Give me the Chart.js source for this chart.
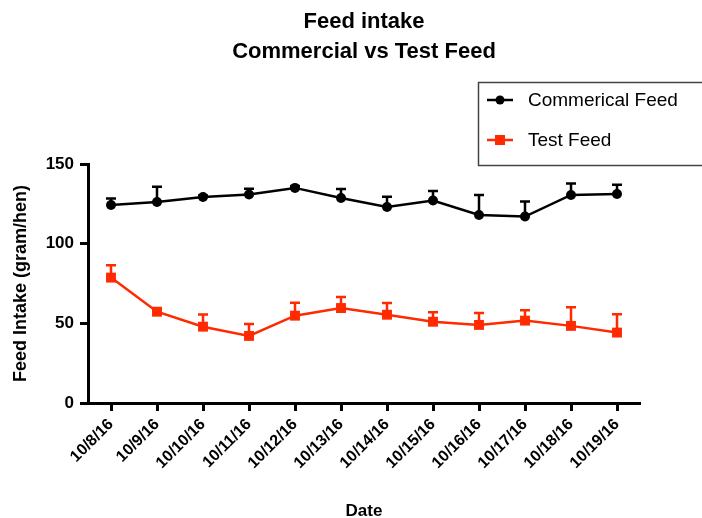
<!DOCTYPE html>
<html>
<head>
<meta charset="utf-8">
<script src="https://cdn.jsdelivr.net/npm/chart.js@4.4.0/dist/chart.umd.min.js"></script>
<style>
  html, body { margin: 0; padding: 0; background: #fff; }
  #wrap { width: 702px; height: 518px; position: relative; }
</style>
</head>
<body>
<div id="wrap"><canvas id="feedChart" width="702" height="518"></canvas></div>
<script>
var dates = ['10/8/16','10/9/16','10/10/16','10/11/16','10/12/16','10/13/16',
             '10/14/16','10/15/16','10/16/16','10/17/16','10/18/16','10/19/16'];

// mean feed intake per day (gram/hen)
var commercialMean = [124.3, 126.2, 129.3, 130.9, 135.0, 128.7, 123.0, 127.1, 118.0, 117.0, 130.6, 131.2];
var commercialErr  = [4.0, 9.6, 1.0, 3.6, 1.0, 5.6, 6.5, 6.0, 12.6, 9.4, 7.1, 5.7];

var testMean = [78.7, 57.3, 47.9, 42.1, 54.8, 59.6, 55.4, 51.0, 49.0, 51.7, 48.4, 44.2];
var testErr  = [7.8, 1.0, 7.7, 7.5, 8.1, 6.9, 7.4, 5.9, 7.5, 6.5, 11.7, 11.5];

var yTicks = [0, 50, 100, 150];

var BLACK = '#000000';
var RED = '#ff2a00';
var FONT = '"Liberation Sans", Arial, Helvetica, sans-serif';

// upper error bars, drawn under the markers
var errorBars = {
	id : 'errorBars',
	beforeDatasetsDraw : function(chart) {
		var ctx = chart.ctx;
		var x = chart.scales.x, y = chart.scales.y;
		chart.data.datasets.forEach(function(ds) {
			if (!ds.errors) return;
			ctx.save();
			ctx.strokeStyle = ds.borderColor;
			ctx.lineWidth = 2.5;
			for (var i = 0; i < ds.data.length; i++) {
				var px = x.getPixelForValue(i);
				var y0 = y.getPixelForValue(ds.data[i]);
				var y1 = y.getPixelForValue(ds.data[i] + ds.errors[i]);
				ctx.beginPath();
				ctx.moveTo(px, y0);
				ctx.lineTo(px, y1);
				ctx.moveTo(px - 5, y1);
				ctx.lineTo(px + 5, y1);
				ctx.stroke();
			}
			ctx.restore();
		});
	}
};

// two-line heading and boxed legend
var decorations = {
	id : 'decorations',
	afterDraw : function(chart) {
		var ctx = chart.ctx;
		var area = chart.chartArea;
		var cx = (area.left + area.right) / 2;
		ctx.save();
		ctx.fillStyle = BLACK;
		ctx.textAlign = 'center';
		ctx.textBaseline = 'middle';
		ctx.font = 'bold 22px ' + FONT;
		ctx.fillText('Feed intake', cx, 22);
		ctx.fillText('Commercial vs Test Feed', cx, 52);

		// legend box
		ctx.strokeStyle = '#444';
		ctx.lineWidth = 1.5;
		ctx.strokeRect(478.5, 82.5, 230, 83);

		var rows = [
			{ label : 'Commerical Feed', color : BLACK, style : 'circle', y : 100 },
			{ label : 'Test Feed', color : RED, style : 'rect', y : 140 }
		];
		ctx.textAlign = 'left';
		ctx.font = '19px ' + FONT;
		rows.forEach(function(r) {
			ctx.strokeStyle = r.color;
			ctx.fillStyle = r.color;
			ctx.lineWidth = 2.5;
			ctx.beginPath();
			ctx.moveTo(487, r.y);
			ctx.lineTo(513, r.y);
			ctx.stroke();
			if (r.style === 'circle') {
				ctx.beginPath();
				ctx.arc(500, r.y, 4.5, 0, Math.PI * 2);
				ctx.fill();
			} else {
				ctx.fillRect(495, r.y - 5, 10, 10);
			}
			ctx.fillStyle = BLACK;
			ctx.fillText(r.label, 528, r.y + 1);
		});
		ctx.restore();
	}
};

var ctx = document.getElementById('feedChart');

var data = {
	labels : dates,
	datasets : [
		{
			label : 'Commerical Feed',
			data : commercialMean,
			errors : commercialErr,
			borderColor : BLACK,
			backgroundColor : BLACK,
			borderWidth : 2.5,
			pointStyle : 'circle',
			pointRadius : 5,
			pointBorderWidth : 0,
			tension : 0,
			fill : false
		},
		{
			label : 'Test Feed',
			data : testMean,
			errors : testErr,
			borderColor : RED,
			backgroundColor : RED,
			borderWidth : 2.5,
			pointStyle : 'rect',
			pointRadius : 7,
			pointBorderWidth : 0,
			tension : 0,
			fill : false
		}
	]
};

var options = {
	responsive : false,
	animation : false,
	layout : {
		padding : { top : 164, right : 62, bottom : 0, left : 0 }
	},
	plugins : {
		legend : { display : false },
		title : { display : false },
		tooltip : { enabled : false }
	},
	scales : {
		x : {
			offset : true,
			afterFit : function(scale) { scale.height = 115; },
			grid : {
				display : true,
				drawOnChartArea : false,
				drawTicks : true,
				tickLength : 8,
				tickWidth : 3,
				tickColor : BLACK,
				offset : false
			},
			border : { display : true, color : BLACK, width : 3 },
			ticks : {
				color : BLACK,
				font : { family : FONT, size : 16, weight : 'bold' },
				minRotation : 45,
				maxRotation : 45,
				autoSkip : false,
				padding : 4
			},
			title : {
				display : true,
				text : 'Date',
				color : BLACK,
				font : { family : FONT, size : 17, weight : 'bold', lineHeight : 0.8 },
				padding : { top : 0, bottom : 0 }
			}
		},
		y : {
			min : 0,
			max : 150,
			afterFit : function(scale) { scale.width = 88; },
			afterBuildTicks : function(scale) {
				scale.ticks = yTicks.map(function(v) { return { value : v }; });
			},
			grid : {
				display : true,
				drawOnChartArea : false,
				drawTicks : true,
				tickLength : 8,
				tickWidth : 3,
				tickColor : BLACK
			},
			border : { display : true, color : BLACK, width : 3 },
			ticks : {
				color : BLACK,
				font : { family : FONT, size : 17, weight : 'bold' },
				padding : 6
			},
			title : {
				display : true,
				text : 'Feed Intake (gram/hen)',
				color : BLACK,
				font : { family : FONT, size : 18, weight : 'bold' },
				padding : { top : 10, bottom : 0 }
			}
		}
	}
};

var chart = new Chart(ctx, {
	type : 'line',
	data : data,
	options : options,
	plugins : [errorBars, decorations]
});
</script>
</body>
</html>
